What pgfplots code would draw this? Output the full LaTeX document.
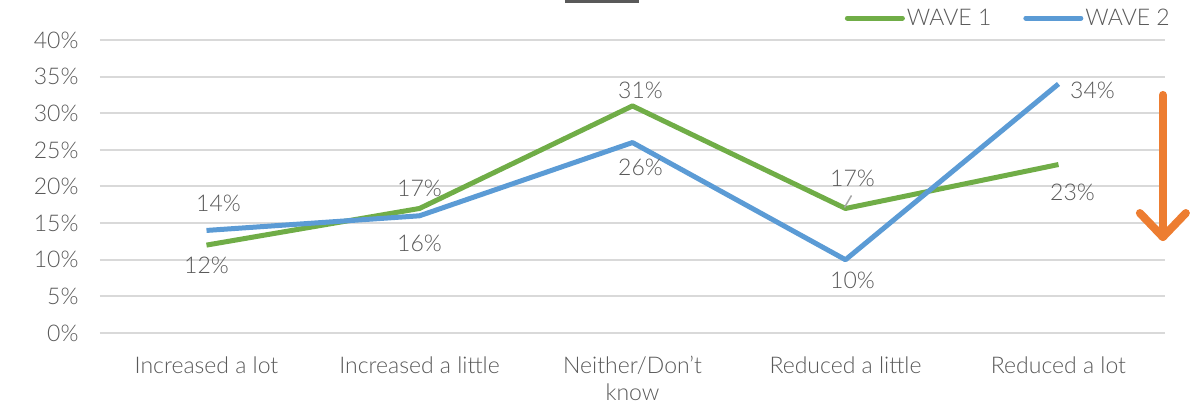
\documentclass[border=0pt]{standalone}
\usepackage{pgfplots}
\pgfplotsset{compat=1.18}
\usepackage{fontspec}
\setmainfont{Lato}[UprightFont=* Light]
\definecolor{wgreen}{HTML}{70AD47}
\definecolor{wblue}{HTML}{5B9BD5}
\definecolor{worange}{HTML}{ED7D31}
\definecolor{txt}{HTML}{595959}
\definecolor{gridgray}{HTML}{D9D9D9}
\pgfplotsset{/pgf/number format/assume math mode=true}

% x, value, label offset (dx, dy) in pt
\pgfplotstableread{
x y dx dy
0 12 0 -20
1 17 0 20
2 31 8 16
3 17 7 30
4 23 14 -28
}\waveone
\pgfplotstableread{
x y dx dy
0 14 12 27
1 16 0 -28
2 26 8 -25
3 10 7 -21
4 34 34 -6
}\wavetwo

\begin{document}
\begin{tikzpicture}[font=\fontsize{23}{27}\selectfont, text=txt]
\path[use as bounding box] (-100pt,-68pt) rectangle (1101pt,333pt);
\begin{axis}[
  at={(0,0)}, anchor=south west,
  scale only axis, width=1065pt, height=293pt,
  xmin=-0.5, xmax=4.5, ymin=0, ymax=40,
  axis line style={draw=none},
  xmajorgrids=false, ymajorgrids=true,
  grid style={gridgray, line width=2pt},
  ytick={0,5,...,40},
  yticklabel={\pgfmathprintnumber{\tick}\%},
  yticklabel style={text=txt, xshift=-18pt},
  xtick={0,1,2,3,4},
  xticklabels={Increased a lot, Increased a little, {Neither/Don’t\\know}, Reduced a little, Reduced a lot},
  xticklabel style={text=txt, align=center, anchor=north, yshift=-20pt},
  major tick length=0pt,
  tick style={draw=none},
  clip=false,
  nodes near coords={\pgfmathprintnumber{\pgfplotspointmeta}\%},
  point meta=y,
  visualization depends on={\thisrow{dx} \as \dx},
  visualization depends on={\thisrow{dy} \as \dy},
  every node near coord/.append style={anchor=center, text=txt, xshift=\dx pt, yshift=\dy pt, font=\fontsize{23}{27}\selectfont},
  legend columns=2,
  legend style={draw=none, fill=none, at={(1,1.03)}, anchor=south east, xshift=10pt, text=txt,
    /tikz/every even column/.append style={column sep=30pt}},
  legend image code/.code={\draw[#1, line width=5pt, line cap=round] (0pt,0pt) -- (55pt,0pt);},
]
\addplot[wgreen, line width=5pt, line join=round, mark=none] table[x=x, y=y] {\waveone};
\addlegendentry{WAVE 1}
\addplot[wblue, line width=5pt, line join=round, mark=none] table[x=x, y=y] {\wavetwo};
\addlegendentry{WAVE 2}
% leader line for the 17% label
\draw[gray!70, line width=1.5pt] (axis cs:3,17) ++(-1pt,1pt) -- ++(7pt,12pt);
% orange arrow
\draw[worange, line width=8pt, line cap=round, line join=round]
  (axis cs:4.49,32.5) -- (axis cs:4.49,13.1);
\draw[worange, line width=8pt, line cap=round, line join=round]
  (axis cs:4.49,13.1) ++(-23pt,24pt) -- (axis cs:4.49,13.1) -- ++(23pt,24pt);
% title underline
\draw[txt, line width=3pt] (rel axis cs:0.4366,1.13) -- (rel axis cs:0.506,1.13);
\end{axis}
\end{tikzpicture}
\end{document}
